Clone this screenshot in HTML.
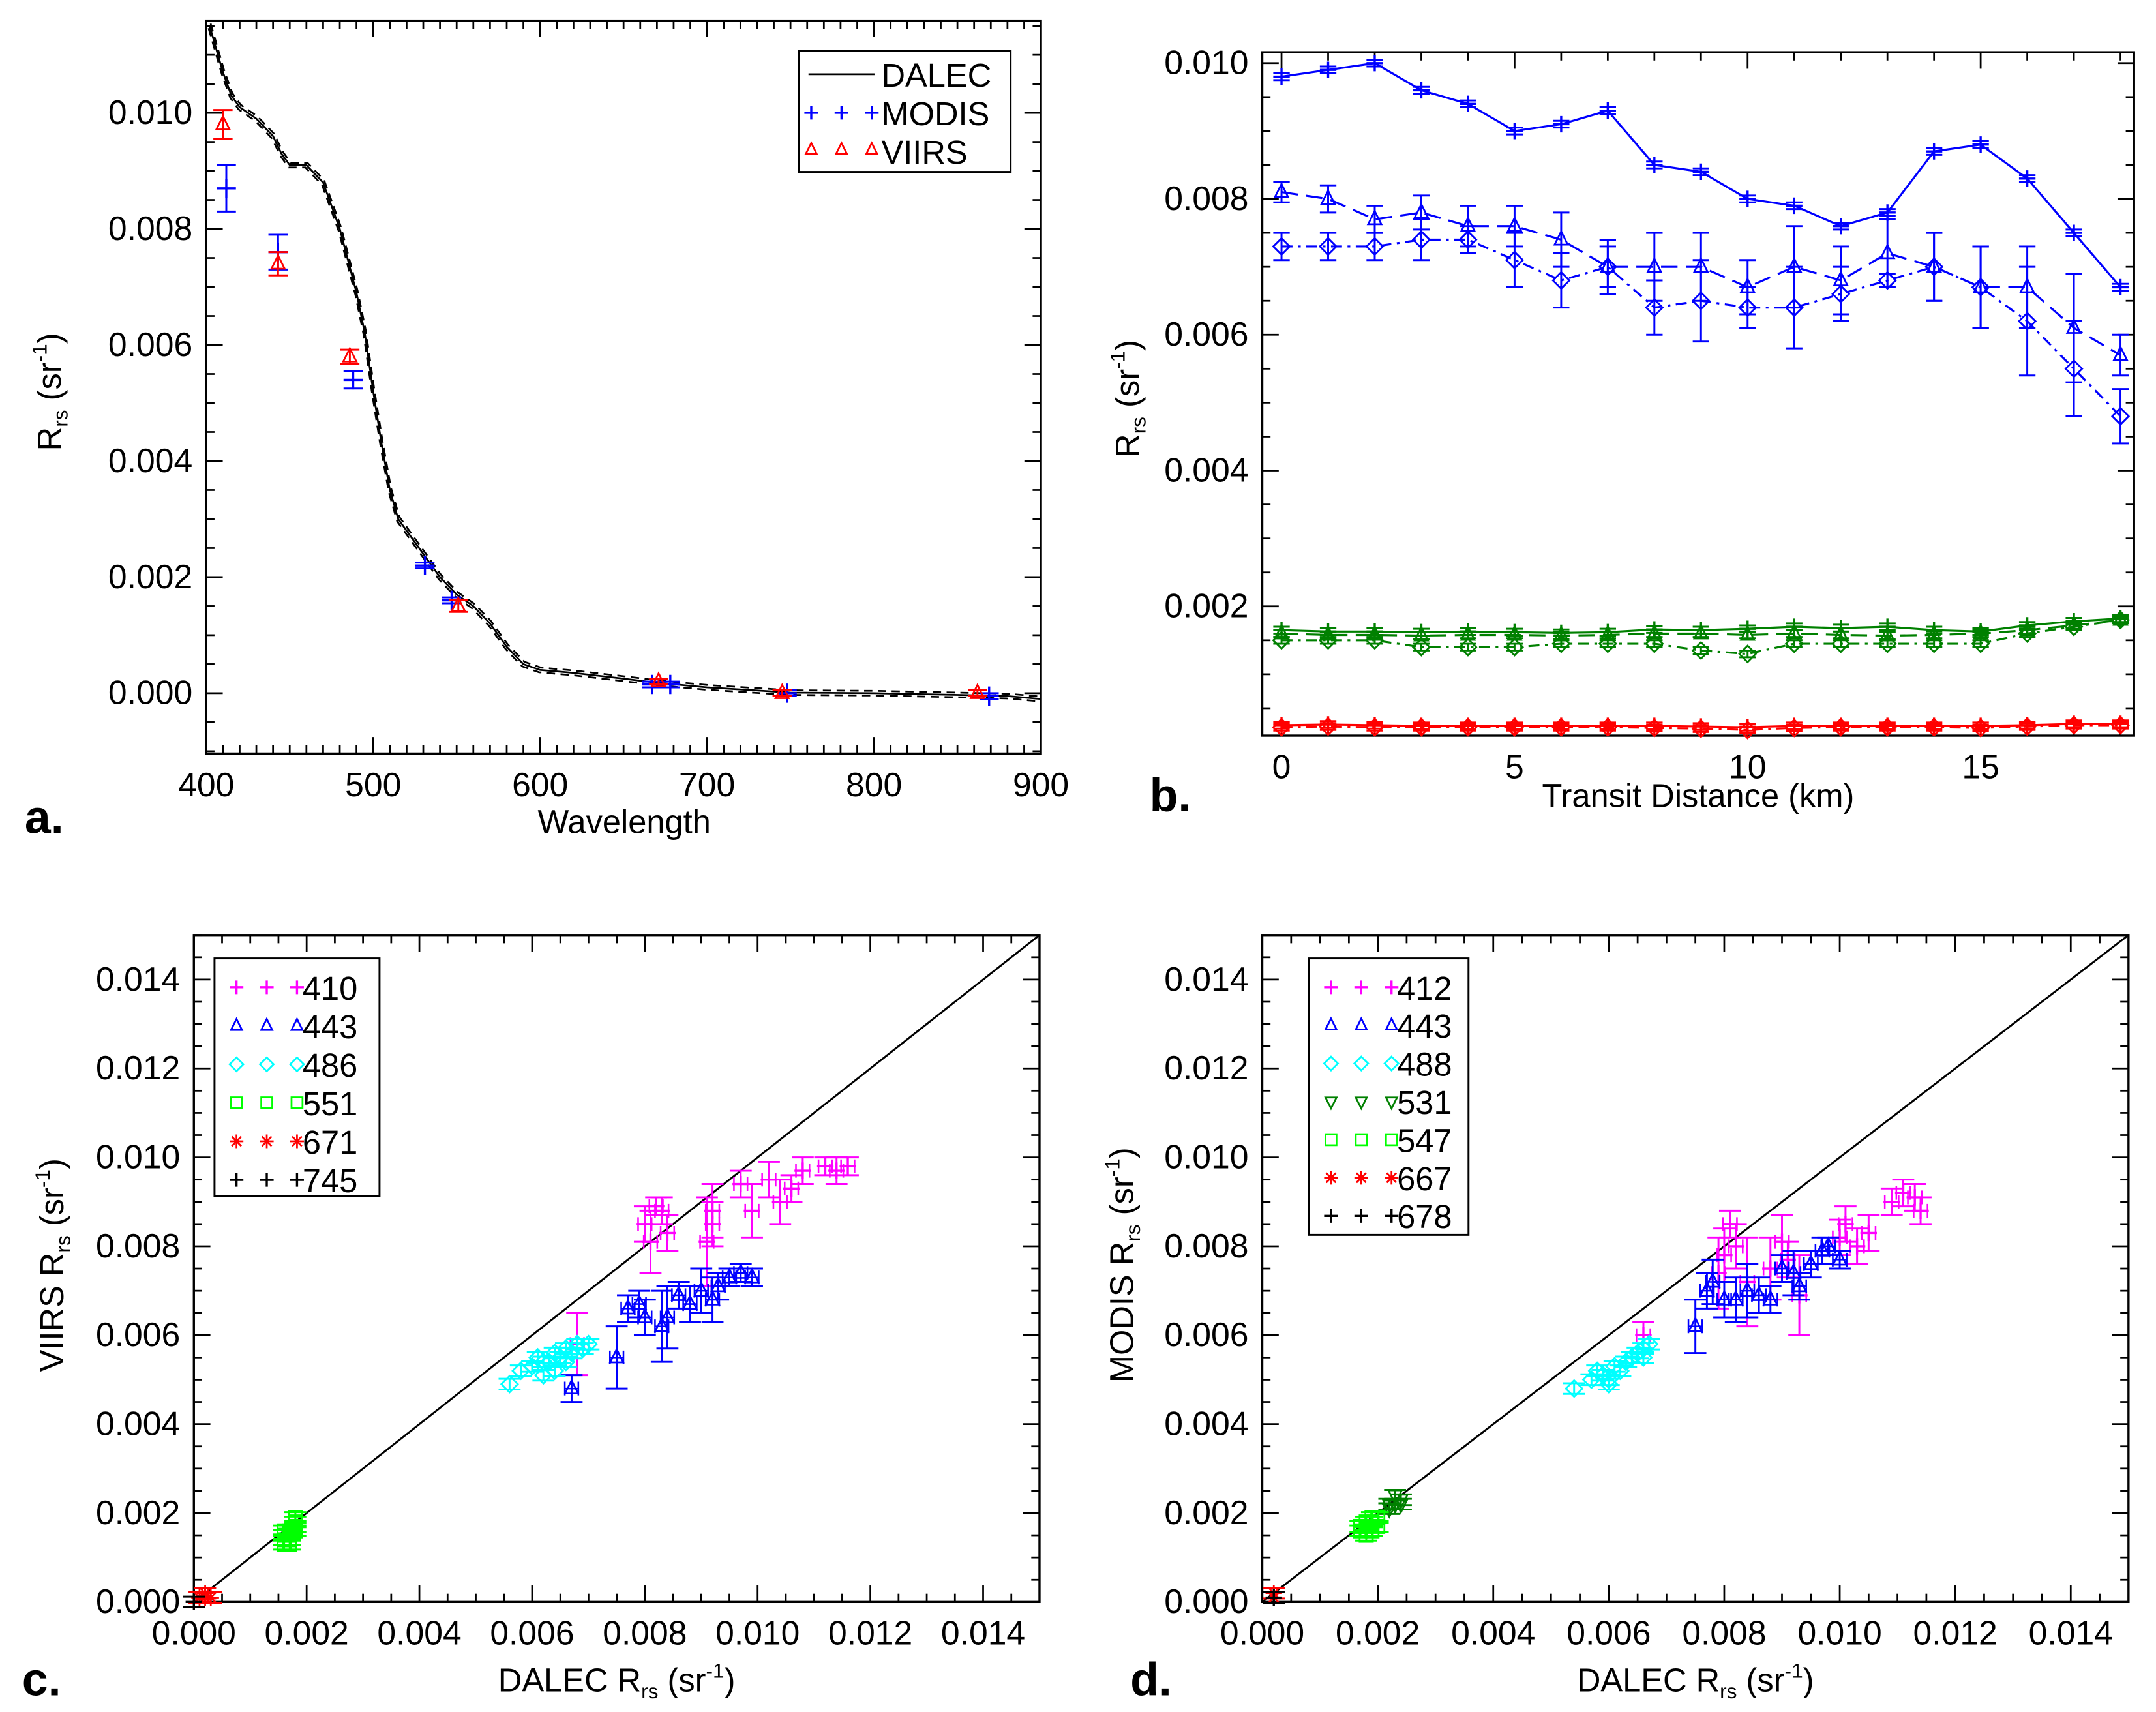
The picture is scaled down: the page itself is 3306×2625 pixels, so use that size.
<!DOCTYPE html>
<html><head><meta charset="utf-8">
<style>
html,body{margin:0;padding:0;background:#fff;}
svg{display:block;font-family:"Liberation Sans",Arial,sans-serif;}
</style></head>
<body>
<svg id="fig" width="3306" height="2625" viewBox="0 0 1568 1245" preserveAspectRatio="none" xmlns="http://www.w3.org/2000/svg"></svg>
<script>
// ---------- Panel a data ----------
const dalecWl = [402,405,410,415,420,430,440,445,450,460,470,480,490,495,500,505,510,515,520,530,540,550,560,570,580,590,600,620,650,670,700,750,800,850,880,900];
const dalecRrs = [0.0115,0.0112,0.0107,0.0103,0.0101,0.0099,0.0096,0.0093,0.0091,0.0091,0.0088,0.0080,0.0069,0.0062,0.0052,0.0043,0.0035,0.0030,0.0028,0.0024,0.0020,0.0017,0.0015,0.0012,0.0008,0.0005,0.0004,0.00035,0.00025,0.00018,0.0001,0.00001,0.0,-0.00003,-0.00005,-0.0001];
const modisWl = [412,443,488,531,547,667,678,748,869];
const modisVal = [0.0087,0.0076,0.0054,0.0022,0.0016,0.00015,0.00015,0.0,-0.00005];
const modisErr = [0.0004,0.0003,0.00015,0.00005,0.00005,0.00005,0.00005,0.00005,0.00005];
const viirsWl = [410,443,486,551,671,745,862];
const viirsVal = [0.0098,0.0074,0.0058,0.0015,0.0002,0.0,0.0];
const viirsErr = [0.00025,0.0002,0.00012,0.0001,0.00005,0.00005,0.00005];
const aXTicks = [400,500,600,700,800,900];
const aYTicks = [0.000,0.002,0.004,0.006,0.008,0.010];

// ---------- Panel b data ----------
const distKm = [0,1,2,3,4,5,6,7,8,9,10,11,12,13,14,15,16,17,18];
const blueSolid = [0.0098,0.0099,0.0100,0.0096,0.0094,0.0090,0.0091,0.0093,0.0085,0.0084,0.0080,0.0079,0.0076,0.0078,0.0087,0.0088,0.0083,0.0075,0.0067];
const blueTri = [0.0081,0.0080,0.0077,0.0078,0.0076,0.0076,0.0074,0.0070,0.0070,0.0070,0.0067,0.0070,0.0068,0.0072,0.0070,0.0067,0.0067,0.0061,0.0057];
const blueTriErr = [0.00015,0.0002,0.0002,0.00025,0.0003,0.0003,0.0004,0.0003,0.0005,0.0005,0.0004,0.0006,0.0005,0.0005,0.0005,0.0006,0.0006,0.0008,0.0003];
const blueDia = [0.0073,0.0073,0.0073,0.0074,0.0074,0.0071,0.0068,0.0070,0.0064,0.0065,0.0064,0.0064,0.0066,0.0068,0.0070,0.0067,0.0062,0.0055,0.0048];
const blueDiaErr = [0.0002,0.0002,0.0002,0.0003,0.0002,0.0004,0.0004,0.0004,0.0004,0.0006,0.0003,0.0006,0.0004,0.0001,0.0005,0.0006,0.0008,0.0007,0.0004];
const greenSolid = [0.00165,0.00163,0.00163,0.00162,0.00163,0.00162,0.00161,0.00162,0.00166,0.00165,0.00167,0.0017,0.00168,0.0017,0.00165,0.00163,0.00172,0.00178,0.00182];
const greenTri = [0.00160,0.00158,0.00158,0.00157,0.00158,0.00158,0.00157,0.00158,0.00160,0.00160,0.00158,0.00160,0.00158,0.00157,0.00158,0.00160,0.00165,0.00172,0.00180];
const greenDia = [0.0015,0.0015,0.0015,0.0014,0.0014,0.0014,0.00145,0.00145,0.00145,0.00135,0.0013,0.00145,0.00145,0.00145,0.00145,0.00145,0.0016,0.0017,0.0018];
const redSolid = [0.00025,0.00026,0.00025,0.00024,0.00024,0.00024,0.00024,0.00024,0.00024,0.00023,0.00022,0.00024,0.00024,0.00024,0.00024,0.00024,0.00025,0.00027,0.00027];
const redDia = [0.00022,0.00023,0.00022,0.00022,0.00022,0.00022,0.00022,0.00022,0.00021,0.00020,0.00018,0.00021,0.00022,0.00022,0.00022,0.00021,0.00023,0.00025,0.00025];
const bXTicks = [0,5,10,15];
const bYTicks = [0.002,0.004,0.006,0.008,0.010];

// ---------- Panel c data (x, y, yerr) ----------
const c410x = [0.0080,0.0082,0.0083,0.0081,0.0084,0.0091,0.0092,0.0092,0.0097,0.0099,0.0102,0.0104,0.0106,0.0108,0.0112,0.0114,0.0116,0.0068];
const c410y = [0.0085,0.0089,0.0088,0.0081,0.0083,0.0081,0.0085,0.0088,0.0094,0.0088,0.0095,0.0090,0.0093,0.0097,0.0098,0.0097,0.0098,0.0058];
const c410e = [0.0004,0.0002,0.0003,0.0007,0.0004,0.0010,0.0005,0.0006,0.0003,0.0006,0.0004,0.0005,0.0003,0.0003,0.0002,0.0003,0.0002,0.0007];
const c443x = [0.0067,0.0075,0.0077,0.0079,0.0080,0.0083,0.0084,0.0086,0.0088,0.0090,0.0092,0.0093,0.0095,0.0097,0.0099];
const c443y = [0.0048,0.0055,0.0066,0.0067,0.0064,0.0062,0.0064,0.0069,0.0067,0.0070,0.0068,0.0071,0.0073,0.0074,0.0073];
const c443e = [0.0003,0.0007,0.0003,0.0003,0.0004,0.0008,0.0007,0.0003,0.0004,0.0005,0.0005,0.0003,0.0002,0.0002,0.0002];
const c486x = [0.0056,0.0058,0.0060,0.0061,0.0062,0.0063,0.0064,0.0065,0.0066,0.0067,0.0068,0.0069,0.0070,0.0062,0.0064,0.0066];
const c486y = [0.0049,0.0052,0.0053,0.0055,0.0051,0.0054,0.0056,0.0055,0.0057,0.0056,0.0058,0.0057,0.0058,0.0054,0.0052,0.0054];
const c551x = [0.0016,0.0016,0.0017,0.0017,0.0016,0.0017,0.0018,0.0018,0.0018,0.0018,0.0017,0.0016];
const c551y = [0.0013,0.0014,0.0014,0.0015,0.0015,0.0016,0.0016,0.0017,0.0018,0.0019,0.0013,0.0016];
const c671x = [0.0001,0.0002,0.0002,0.0003];
const c671y = [0.0001,0.0002,0.0001,0.0001];
const c745x = [0.0000];
const c745y = [0.0000];

// ---------- Panel d data ----------
const d412x = [0.0079,0.0080,0.0081,0.0082,0.0084,0.0088,0.0090,0.0091,0.0093,0.0100,0.0101,0.0103,0.0105,0.0109,0.0111,0.0113,0.0114,0.0066];
const d412y = [0.0074,0.0078,0.0085,0.0080,0.0072,0.0075,0.0081,0.0077,0.0069,0.0082,0.0085,0.0080,0.0083,0.0090,0.0092,0.0091,0.0088,0.0060];
const d412e = [0.0008,0.0006,0.0003,0.0005,0.0010,0.0007,0.0006,0.0004,0.0009,0.0004,0.0004,0.0004,0.0004,0.0003,0.0003,0.0003,0.0003,0.0003];
const d443x = [0.0075,0.0077,0.0078,0.0080,0.0082,0.0084,0.0086,0.0088,0.0090,0.0092,0.0093,0.0095,0.0097,0.0098,0.0100];
const d443y = [0.0062,0.0070,0.0072,0.0068,0.0068,0.0070,0.0069,0.0068,0.0075,0.0074,0.0071,0.0076,0.0079,0.0080,0.0077];
const d443e = [0.0006,0.0004,0.0005,0.0004,0.0005,0.0006,0.0004,0.0003,0.0003,0.0005,0.0003,0.0003,0.0003,0.0002,0.0002];
const d488x = [0.0054,0.0057,0.0058,0.0059,0.0060,0.0061,0.0062,0.0063,0.0064,0.0065,0.0066,0.0067,0.0060,0.0066];
const d488y = [0.0048,0.0050,0.0052,0.0051,0.0050,0.0053,0.0052,0.0054,0.0055,0.0056,0.0057,0.0058,0.0049,0.0055];
const d531x = [0.0022,0.0023,0.0024,0.0023,0.0022,0.0024];
const d531y = [0.0021,0.0022,0.0023,0.0024,0.0022,0.0022];
const d547x = [0.0017,0.0018,0.0019,0.0018,0.0019,0.0020,0.0020,0.0017,0.0019,0.0018];
const d547y = [0.0016,0.0017,0.0018,0.0015,0.0016,0.0017,0.0019,0.0017,0.0019,0.0018];
const d667x = [0.0002,0.0002];
const d667y = [0.0001,0.0002];
const d678x = [0.0002];
const d678y = [0.0001];
const scatTicks = [0.000,0.002,0.004,0.006,0.008,0.010,0.012,0.014];

// ---------- drawing ----------
const NS = "http://www.w3.org/2000/svg";
const svg = document.getElementById("fig");
const TF = 24.5;
function el(tag, attrs, parent){
  const e = document.createElementNS(NS, tag);
  for (const k in attrs) e.setAttribute(k, attrs[k]);
  (parent||svg).appendChild(e);
  return e;
}
function txt(s, x, y, size, anchor, parent, extra){
  const t = el("text", Object.assign({x:x, y:y, "font-size":size, "text-anchor":anchor||"middle", fill:"#000"}, extra||{}), parent);
  t.textContent = s;
  return t;
}
function makeAxes(p){
  p.sx = v => p.x0 + (v - p.xmin) / (p.xmax - p.xmin) * (p.x1 - p.x0);
  p.sy = v => p.y1 - (v - p.ymin) / (p.ymax - p.ymin) * (p.y1 - p.y0);
  return p;
}
function drawFrame(p, g, xMaj, xMin, yMaj, yMin, xFmt, yFmt, xTicks, yTicks){
  const box = el("rect", {x:p.x0, y:p.y0, width:p.x1-p.x0, height:p.y1-p.y0, fill:"none", stroke:"#000", "stroke-width":1.6}, g);
  
  
  const eps = 1e-9;
  for (let v = Math.ceil((p.xmin-eps)/xMin)*xMin; v <= p.xmax+eps; v += xMin){
    const major = Math.abs(v/xMaj - Math.round(v/xMaj)) < 1e-6;
    const L = major ? 12 : 6, x = p.sx(v);
    el("line", {x1:x, x2:x, y1:p.y1, y2:p.y1-L, stroke:"#000", "stroke-width":1.3}, g);
    el("line", {x1:x, x2:x, y1:p.y0, y2:p.y0+L, stroke:"#000", "stroke-width":1.3}, g);
  }
  for (let v = Math.ceil((p.ymin-eps)/yMin)*yMin; v <= p.ymax+eps; v += yMin){
    const major = Math.abs(v/yMaj - Math.round(v/yMaj)) < 1e-6;
    const L = major ? 12 : 6, y = p.sy(v);
    el("line", {x1:p.x0, x2:p.x0+L, y1:y, y2:y, stroke:"#000", "stroke-width":1.3}, g);
    el("line", {x1:p.x1, x2:p.x1-L, y1:y, y2:y, stroke:"#000", "stroke-width":1.3}, g);
  }
  xTicks.forEach(v => {
    const t = txt(xFmt(v), p.sx(v), p.y1 + 31, TF, "middle", g);
    
    
  });
  yTicks.forEach(v => {
    const t = txt(yFmt(v), p.x0 - 10, p.sy(v) + 8, TF, "end", g);
    
    
  });
}
function marker(type, x, y, color, g, s){
  s = s || 5;
  let m;
  const sw = 1.3;
  if (type === "plus"){
    m = el("path", {d:`M${x-s},${y}H${x+s}M${x},${y-s}V${y+s}`, stroke:color, "stroke-width":sw+0.3, fill:"none"}, g);
  } else if (type === "tri"){
    m = el("path", {d:`M${x},${y-s}L${x+s*0.8},${y+s*0.6}L${x-s*0.8},${y+s*0.6}Z`, stroke:color, "stroke-width":sw, fill:"none"}, g);
  } else if (type === "itri"){
    m = el("path", {d:`M${x},${y+s}L${x+s*0.8},${y-s*0.6}L${x-s*0.8},${y-s*0.6}Z`, stroke:color, "stroke-width":sw, fill:"none"}, g);
  } else if (type === "dia"){
    m = el("path", {d:`M${x},${y-s}L${x+s},${y}L${x},${y+s}L${x-s},${y}Z`, stroke:color, "stroke-width":sw, fill:"none"}, g);
  } else if (type === "sq"){
    m = el("rect", {x:x-s*0.8, y:y-s*0.8, width:s*1.6, height:s*1.6, stroke:color, "stroke-width":sw, fill:"none"}, g);
  } else if (type === "star"){
    m = el("path", {d:`M${x-s},${y}H${x+s}M${x},${y-s}V${y+s}M${x-s*0.7},${y-s*0.7}L${x+s*0.7},${y+s*0.7}M${x-s*0.7},${y+s*0.7}L${x+s*0.7},${y-s*0.7}`, stroke:color, "stroke-width":sw, fill:"none"}, g);
  }
  return m;
}
function errbar(x, yTop, yBot, color, g, cap){
  cap = cap || 6;
  el("path", {d:`M${x},${yTop}V${yBot}M${x-cap},${yTop}H${x+cap}M${x-cap},${yBot}H${x+cap}`, stroke:color, "stroke-width":1.4, fill:"none"}, g);
}
function hbar(xl, xr, y, color, g){
  el("path", {d:`M${xl},${y}H${xr}M${xl},${y-5}V${y+5}M${xr},${y-5}V${y+5}`, stroke:color, "stroke-width":1.2, fill:"none"}, g);
}
function ylabel(g, x, y, main, sub, prefix){
  const t = el("text", {transform:`translate(${x},${y}) rotate(-90)`, "font-size":24, "text-anchor":"middle", fill:"#000"}, g);
  
  
  t.innerHTML = `${prefix||""}R<tspan font-size="15" dy="5">rs</tspan><tspan dy="-5"> (sr</tspan><tspan font-size="15" dy="-10">-1</tspan><tspan dy="10">)</tspan>`;
}
function xlabelRrs(g, x, y){
  const t = el("text", {x:x, y:y, "font-size":24, "text-anchor":"middle", fill:"#000"}, g);
  
  
  t.innerHTML = `DALEC R<tspan font-size="15" dy="5">rs</tspan><tspan dy="-5"> (sr</tspan><tspan font-size="15" dy="-10">-1</tspan><tspan dy="10">)</tspan>`;
}
function panelLetter(s, x, y){
  const t = txt(s, x, y, 34, "start", svg, {"font-weight":"bold"});
  
  
}
const f3 = v => v.toFixed(3);

// ===== Panel a =====
const ga = el("g", {});


const pa = makeAxes({x0:150, x1:757, y0:15, y1:548, xmin:400, xmax:900, ymin:-0.00104, ymax:0.01159});
drawFrame(pa, ga, 100, 10, 0.002, 0.0005, v => String(v), f3, aXTicks, aYTicks);
const clipA = el("clipPath", {id:"clipA"}, ga);
el("rect", {x:pa.x0, y:pa.y0, width:pa.x1-pa.x0, height:pa.y1-pa.y0}, clipA);
[[0,"none",0],[2.5,"6,4",0.00004],[-2.5,"6,4",-0.00004]].forEach(([dx,dash,dy]) => {
  const d = dalecWl.map((w,i) => (i?"L":"M") + (pa.sx(w)+dx*0.3) + "," + pa.sy(dalecRrs[i]+dy)).join("");
  const ln = el("path", {d:d, stroke:"#000", "stroke-width":1.3, fill:"none", "stroke-dasharray":dash, "clip-path":"url(#clipA)"}, ga);
  
  
});
modisWl.forEach((w,i) => {
  const x = pa.sx(w);
  errbar(x, pa.sy(modisVal[i]+modisErr[i]), pa.sy(modisVal[i]-modisErr[i]), "#0000ff", ga, 7);
  const m = marker("plus", x, pa.sy(modisVal[i]), "#0000ff", ga, 7);
  
  
});
viirsWl.forEach((w,i) => {
  const x = pa.sx(w);
  errbar(x, pa.sy(viirsVal[i]+viirsErr[i]), pa.sy(viirsVal[i]-viirsErr[i]), "#ff0000", ga, 7);
  const m = marker("tri", x, pa.sy(viirsVal[i]), "#ff0000", ga, 6);
  
  
});
const legA = el("g", {}, ga);


el("rect", {x:581, y:37, width:154, height:88, fill:"#fff", stroke:"#000", "stroke-width":1.4}, legA);
el("line", {x1:588, x2:636, y1:54, y2:54, stroke:"#000", "stroke-width":1.3}, legA);
txt("DALEC", 641, 63, 24, "start", legA);
[590,612,634].forEach(x => marker("plus", x, 82, "#0000ff", legA, 5));
txt("MODIS", 641, 91, 24, "start", legA);
[590,612,634].forEach(x => marker("tri", x, 109, "#ff0000", legA, 5));
txt("VIIRS", 641, 119, 24, "start", legA);
ylabel(ga, 44, 285, "R", "rs");
const wlT = txt("Wavelength", 454, 606, 24, "middle", ga);


panelLetter("a.", 18, 606);

// ===== Panel b =====
const gb = el("g", {});


const pb = makeAxes({x0:918, x1:1552, y0:38, y1:535, xmin:-0.413, xmax:18.29, ymin:0.0000961, ymax:0.01016});
drawFrame(pb, gb, 5, 1, 0.002, 0.0005, v => String(v), f3, bXTicks, bYTicks);
function bSeries(vals, errs, mk, color, dash, name){
  const d = distKm.map((k,i) => (i?"L":"M") + pb.sx(k) + "," + pb.sy(vals[i])).join("");
  const ln = el("path", {d:d, stroke:color, "stroke-width":1.5, fill:"none", "stroke-dasharray":dash}, gb);
  
  
  distKm.forEach((k,i) => {
    const e = errs ? errs[i] : 0.00005;
    errbar(pb.sx(k), pb.sy(vals[i]+e), pb.sy(vals[i]-e), color, gb, 6);
    marker(mk, pb.sx(k), pb.sy(vals[i]), color, gb, 6);
  });
}
bSeries(blueSolid, null, "plus", "#0000ff", "none", "blue-dalec-line");
bSeries(blueTri, blueTriErr, "tri", "#0000ff", "12,6", "blue-viirs-line");
bSeries(blueDia, blueDiaErr, "dia", "#0000ff", "8,4,2,4", "blue-modis-line");
bSeries(greenSolid, null, "plus", "#008000", "none", "green-dalec-line");
bSeries(greenTri, null, "tri", "#008000", "12,6", "green-viirs-line");
bSeries(greenDia, null, "dia", "#008000", "8,4,2,4", "green-modis-line");
bSeries(redSolid, null, "plus", "#ff0000", "none", "red-dalec-line");
bSeries(redDia, null, "dia", "#ff0000", "8,4,2,4", "red-modis-line");
ylabel(gb, 828, 290);
const tdT = txt("Transit Distance (km)", 1235, 587, 24, "middle", gb);


panelLetter("b.", 836, 590);

// ===== Scatter panels =====
function scatterPanel(gname, box, sets, legendBox, yPrefix, ylx, letter, letterX){
  const g = el("g", {});
  
  
  const p = makeAxes(Object.assign({xmin:0, xmax:0.015, ymin:0, ymax:0.015}, box));
  drawFrame(p, g, 0.002, 0.0005, 0.002, 0.0005, f3, f3, scatTicks, scatTicks);
  const one = el("line", {x1:p.sx(0), y1:p.sy(0), x2:p.sx(0.015), y2:p.sy(0.015), stroke:"#000", "stroke-width":1.4}, g);
  
  
  sets.forEach(s => {
    s.x.forEach((xv,i) => {
      const px = p.sx(xv), py = p.sy(s.y[i]);
      const e = s.e ? s.e[i] : 0.00012;
      errbar(px, p.sy(s.y[i]+e), p.sy(s.y[i]-e), s.color, g, 8);
      if (s.e) hbar(p.sx(xv-0.00012), p.sx(xv+0.00012), py, s.color, g);
      const m = marker(s.mk, px, py, s.color, g, 6);
      
      
    });
  });
  const lg = el("g", {}, g);
  
  
  const lb = legendBox;
  el("rect", {x:lb.x, y:lb.y, width:lb.w, height:lb.h, fill:"#fff", stroke:"#000", "stroke-width":1.4}, lg);
  sets.forEach((s,i) => {
    const y = lb.y + 21 + i * lb.step;
    [lb.x+16, lb.x+38, lb.x+60].forEach(x => marker(s.mk, x, y, s.color, lg, 5));
    const t = txt(s.label, lb.x+64, y + 9, 24, "start", lg);
    
    
  });
  ylabel(g, ylx, 920, null, null, yPrefix);
  xlabelRrs(g, (p.x0+p.x1)/2, 1230);
  panelLetter(letter, letterX, 1233);
}
scatterPanel("panel-c-viirs", {x0:141, x1:756, y0:680, y1:1165}, [
  {label:"410", mk:"plus", color:"#ff00ff", x:c410x, y:c410y, e:c410e},
  {label:"443", mk:"tri", color:"#0000ff", x:c443x, y:c443y, e:c443e},
  {label:"486", mk:"dia", color:"#00ffff", x:c486x, y:c486y},
  {label:"551", mk:"sq", color:"#00ff00", x:c551x, y:c551y},
  {label:"671", mk:"star", color:"#ff0000", x:c671x, y:c671y},
  {label:"745", mk:"plus", color:"#000000", x:c745x, y:c745y}
], {x:156, y:697, w:120, h:173, step:28}, "VIIRS ", 46, "c.", 16);
scatterPanel("panel-d-modis", {x0:918, x1:1548, y0:680, y1:1165}, [
  {label:"412", mk:"plus", color:"#ff00ff", x:d412x, y:d412y, e:d412e},
  {label:"443", mk:"tri", color:"#0000ff", x:d443x, y:d443y, e:d443e},
  {label:"488", mk:"dia", color:"#00ffff", x:d488x, y:d488y},
  {label:"531", mk:"itri", color:"#008000", x:d531x, y:d531y},
  {label:"547", mk:"sq", color:"#00ff00", x:d547x, y:d547y},
  {label:"667", mk:"star", color:"#ff0000", x:d667x, y:d667y},
  {label:"678", mk:"plus", color:"#000000", x:d678x, y:d678y}
], {x:952, y:697, w:116, h:201, step:27.7}, "MODIS ", 824, "d.", 822);
</script>
</body></html>
